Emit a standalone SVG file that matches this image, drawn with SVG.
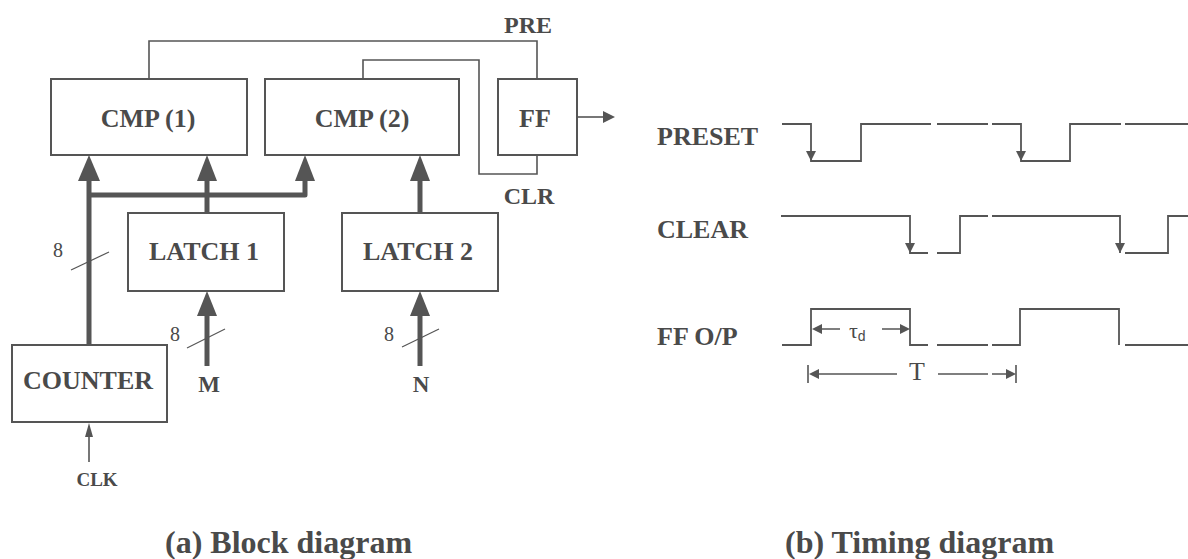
<svg xmlns="http://www.w3.org/2000/svg" width="1188" height="559" viewBox="0 0 1188 559">
<style>
  .box { fill: #fff; stroke: #555; stroke-width: 2; }
  .lbl { font-family: "Liberation Serif", "Times New Roman", serif; font-weight: bold; fill: #4a4a4a; text-anchor: middle; }
  .lbl.st { text-anchor: start; }
  .big { font-size: 26px; }
  .reg { font-family: "Liberation Serif", "Times New Roman", serif; fill: #4a4a4a; }
  .wire { fill: none; stroke: #555; stroke-width: 1.6; }
  .bus { fill: none; stroke: #555; stroke-width: 5; stroke-linejoin: round; }
  .head { fill: #555; stroke: none; }
  .slash { stroke: #555; stroke-width: 1.2; }
  .wave { fill: none; stroke: #555; stroke-width: 1.8; }
</style>
<rect width="1188" height="559" fill="#fff"/>

<!-- connectors of block diagram -->
<g id="connectors">
  <path class="wire" d="M149,79 V41 H537 V79"/>
  <path class="wire" d="M363,79 V60 H479 V174 H537 V155"/>
  <path class="wire" d="M577,117 H604"/>
  <polygon class="head" points="603,111 615,117 603,123"/>
  <path class="wire" d="M89,462 V434"/>
  <polygon class="head" points="85,437 89,423 93,437"/>
  <path class="bus" d="M89,345 V180"/>
  <polygon class="head" points="78,181 89,155 100,181"/>
  <path class="bus" d="M89,195 H305 V180"/>
  <polygon class="head" points="295,181 305,155 315,181"/>
  <path class="bus" d="M207,213 V180"/>
  <polygon class="head" points="197,181 207,155 217,181"/>
  <path class="bus" d="M420,213 V180"/>
  <polygon class="head" points="410,181 420,155 430,181"/>
  <path class="bus" d="M207,366 V314"/>
  <polygon class="head" points="197,316 207,291 217,316"/>
  <path class="bus" d="M420,366 V314"/>
  <polygon class="head" points="410,316 420,291 430,316"/>
  <line class="slash" x1="71" y1="270" x2="109" y2="252"/>
  <line class="slash" x1="187" y1="348" x2="225" y2="329"/>
  <line class="slash" x1="402" y1="347" x2="439" y2="329"/>
  <text class="reg" x="58" y="257" font-size="20" text-anchor="middle">8</text>
  <text class="reg" x="175" y="341" font-size="20" text-anchor="middle">8</text>
  <text class="reg" x="389" y="341" font-size="20" text-anchor="middle">8</text>
  <text class="lbl" x="528" y="33" font-size="24">PRE</text>
  <text class="lbl" x="529" y="204" font-size="24">CLR</text>
  <text class="lbl" x="209" y="392" font-size="23">M</text>
  <text class="lbl" x="421" y="392" font-size="23">N</text>
  <text class="lbl" x="97" y="486" font-size="19">CLK</text>
</g>

<g id="cmp1"><rect class="box" x="51" y="79" width="196" height="76"/><text class="lbl big" x="148" y="127">CMP (1)</text></g>
<g id="cmp2"><rect class="box" x="265" y="79" width="194" height="76"/><text class="lbl big" x="362" y="127">CMP (2)</text></g>
<g id="ff"><rect class="box" x="498" y="79" width="79" height="76"/><text class="lbl big" x="535" y="127">FF</text></g>
<g id="latch1"><rect class="box" x="128" y="213" width="156" height="78"/><text class="lbl big" x="204" y="260">LATCH 1</text></g>
<g id="latch2"><rect class="box" x="342" y="213" width="156" height="78"/><text class="lbl big" x="418" y="260">LATCH 2</text></g>
<g id="counter"><rect class="box" x="12" y="345" width="155" height="77"/><text class="lbl big" x="88" y="389">COUNTER</text></g>

<text class="lbl st" x="165" y="553" font-size="32">(a) Block diagram</text>

<!-- timing diagram -->
<g id="timing">
  <text class="lbl big st" x="657" y="145">PRESET</text>
  <text class="lbl big st" x="657" y="238">CLEAR</text>
  <text class="lbl big st" x="657" y="345">FF O/P</text>

  <path class="wave" d="M782,124 H811 V161 H861 V124 H931 M937,124 H988 M992,124 H1021 V161 H1070 V124 H1121 M1125,124 H1188"/>
  <polygon class="head" points="806,151 816,151 811,161"/>
  <polygon class="head" points="1016,151 1026,151 1021,161"/>

  <path class="wave" d="M781,216 H910 V253 H928 M937,253 H960 V216 H988 M992,216 H1120 V253 M1125,253 H1168 V216 H1188"/>
  <polygon class="head" points="905,243 915,243 910,253"/>
  <polygon class="head" points="1115,243 1125,243 1120,253"/>

  <path class="wave" d="M782,345 H811 V309 H910 V345 H928 M937,345 H988 M992,345 H1020 V309 H1119 V345 M1125,345 H1188"/>

  <path class="wire" d="M821,329 H840 M882,329 H901"/>
  <polygon class="head" points="812,329 822,324 822,334"/>
  <polygon class="head" points="900,324 910,329 900,334"/>
  <text class="reg" x="849" y="338" font-size="22">τ<tspan font-family="'Liberation Sans', Arial, sans-serif" font-size="14" dy="3">d</tspan></text>

  <path class="wire" d="M808,365 V383 M818,374 H897 M938,374 H988 M992,374 H1007 M1016,365 V383"/>
  <polygon class="head" points="809,374 819,369 819,379"/>
  <polygon class="head" points="1006,369 1016,374 1006,379"/>
  <text class="reg" x="917" y="380" font-size="26" text-anchor="middle">T</text>
</g>

<text class="lbl st" x="785" y="553" font-size="32">(b) Timing diagram</text>
</svg>
